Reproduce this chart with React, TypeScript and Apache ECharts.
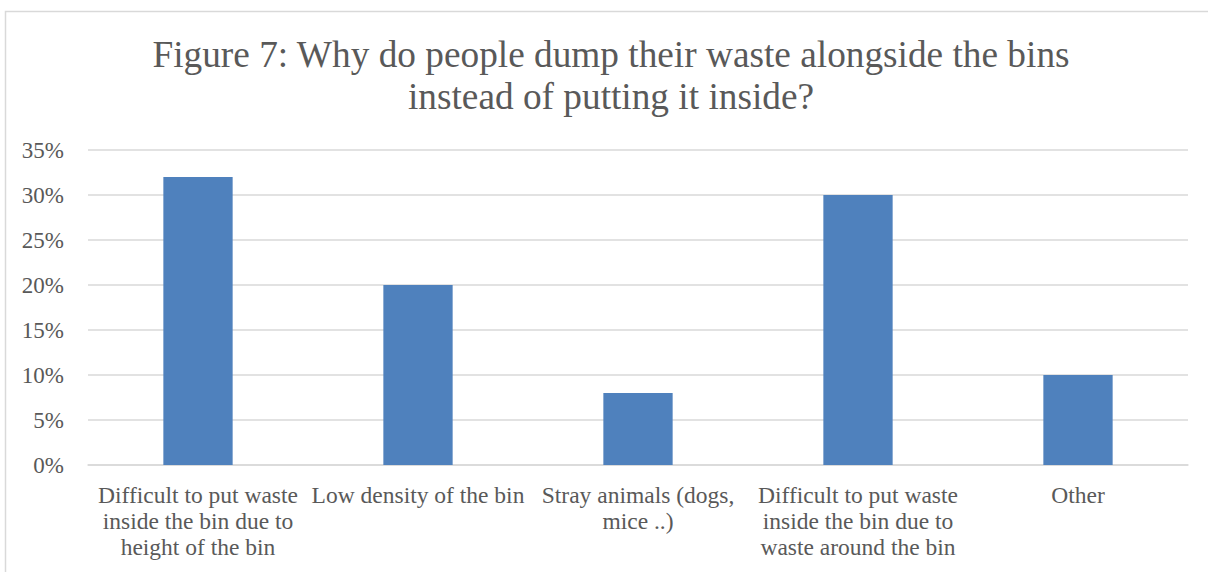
import React, { useEffect, useRef } from "react";
import * as echarts from "echarts";

const categories = [
  "Difficult to put waste\ninside the bin due to\nheight of the bin",
  "Low density of the bin",
  "Stray animals (dogs,\nmice ..)",
  "Difficult to put waste\ninside the bin due to\nwaste around the bin",
  "Other",
];
const values = [32, 20, 8, 30, 10];
const titleText = "Figure 7: Why do people dump their waste alongside the bins\ninstead of putting it inside?";

export default function App() {
  const ref = useRef<HTMLDivElement>(null);
  useEffect(() => {
    if (!ref.current) return;
    const chart = echarts.init(ref.current, null, { renderer: "svg" });
    const font = "'Liberation Serif', 'Times New Roman', serif";
    chart.setOption({
      animation: false,
      backgroundColor: "#ffffff",
      graphic: [
        {
          type: "rect",
          shape: { x: 5.5, y: 11.5, width: 1400, height: 800 },
          style: { fill: "none", stroke: "#d9d9d9", lineWidth: 1.5 },
          silent: true,
        },
      ],
      title: {
        text: titleText,
        left: 606,
        textAlign: "center",
        top: 28,
        textStyle: {
          fontFamily: font,
          fontSize: 37.3,
          fontWeight: "normal",
          color: "#595959",
          lineHeight: 42,
        },
      },
      grid: { left: 88, right: 20, top: 150, bottom: 107, containLabel: false },
      xAxis: {
        type: "category",
        data: categories,
        axisLine: { show: true, lineStyle: { color: "#d9d9d9", width: 1.5 } },
        axisTick: { show: false },
        axisLabel: {
          interval: 0,
          margin: 17,
          fontFamily: font,
          fontSize: 23.5,
          color: "#595959",
          lineHeight: 26,
        },
      },
      yAxis: {
        type: "value",
        min: 0,
        max: 35,
        interval: 5,
        axisLine: { show: false },
        axisTick: { show: false },
        splitLine: { lineStyle: { color: "#d9d9d9", width: 1.5 } },
        axisLabel: {
          formatter: "{value}%",
          margin: 24,
          fontFamily: font,
          fontSize: 23,
          color: "#595959",
        },
      },
      series: [
        {
          type: "bar",
          data: values,
          barWidth: "31.5%",
          itemStyle: { color: "#4f81bd" },
        },
      ],
    });
    return () => chart.dispose();
  }, []);
  return (
    <div
      ref={ref}
      style={{ position: "fixed", left: 0, top: 0, width: 1208, height: 572 }}
    />
  );
}
